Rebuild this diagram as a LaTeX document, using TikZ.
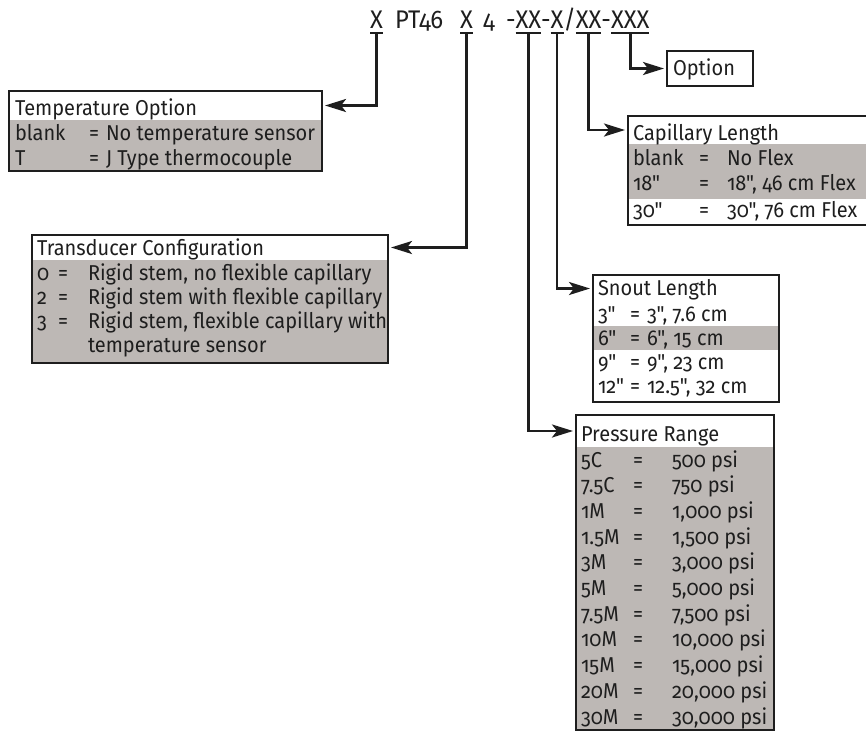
\documentclass[tikz,border=0pt]{standalone}
\usepackage{fontspec}
\setmainfont{Fira Sans}[Numbers=OldStyle, Ligatures=TeXOff, FakeStretch=0.93]
\usetikzlibrary{arrows.meta}
\definecolor{rowgray}{HTML}{BDB8B5}
\definecolor{ink}{HTML}{1E1E1E}
\newcommand\rowthree[8]{%
  \node[txt] (#1a) at (#3,#2) {#4};
  \node[txt] (#1b) at (#5,#2) {#6};
  \node[txt] (#1c) at (#7,#2) {#8};}
\begin{document}
\begin{tikzpicture}[x=1pt, y=-1pt,
  conn/.style={draw=ink, line width=2.6pt, -{Stealth[length=21pt,width=13pt,inset=5pt]}, shorten >=3pt},
  frame/.style={draw=ink, line width=1.2pt, anchor=north west, inner sep=0pt, outer sep=0pt},
  hdr/.style={anchor=north west, inner sep=0pt, outer sep=0pt},
  txt/.style={anchor=base west, inner sep=0pt, outer sep=0pt, text=ink, font=\fontsize{21.5}{24}\selectfont},
  ttl/.style={anchor=base west, inner sep=0pt, outer sep=0pt, text=ink, font=\fontsize{25.5}{28}\selectfont, text depth=5pt},
  uline/.style={draw=ink, line width=1.2pt}]
\clip (0,0) rectangle (866,732);

% ---- title ----
\node[ttl] (tx1) at (370,28) {X};
\node[ttl] (tpt) at (395,28) {PT46};
\node[ttl] (tx2) at (460,28) {X};
\node[ttl] (tfour) at (483,28) {4};
\node[ttl] (td1) at (506,28) {-};
\node[ttl] (txx1) at (td1.base east) {XX};
\node[ttl] (td2) at (txx1.base east) {-};
\node[ttl] (tx3) at (td2.base east) {X};
\node[ttl] (tsl) at (tx3.base east) {/};
\node[ttl] (txx2) at (tsl.base east) {XX};
\node[ttl] (td3) at (txx2.base east) {-};
\node[ttl] (txxx) at (td3.base east) {XXX};
\foreach \n in {tx1,tx2,txx1,tx3,txx2,txxx}
  \draw[uline] (\n.south west) -- (\n.south east);

% ---- Option ----
\node[frame, minimum width=86, minimum height=35] (opt) at (667,51) {};
\node[txt] (optt) at (673,75) {Option};

% ---- Temperature Option ----
\fill[rowgray] (9,120) rectangle (322,171);
\node[frame, minimum width=313, minimum height=80] (temp) at (9,91) {};
\node[hdr, minimum width=313, minimum height=29] (temph) at (9,91) {};
\node[txt] (tempt) at (15,115) {Temperature Option};
\rowthree{tempra}{140}{15}{blank}{89}{=}{106}{No temperature sensor}
\rowthree{temprb}{165}{15}{T}{89}{=}{106}{J Type thermocouple}

% ---- Transducer Configuration ----
\fill[rowgray] (32,260) rectangle (388,363);
\node[frame, minimum width=356, minimum height=128] (trans) at (32,235) {};
\node[hdr, minimum width=356, minimum height=25] (transh) at (32,235) {};
\node[txt] (transt) at (37,255) {Transducer Configuration};
\rowthree{transra}{280}{37}{0}{58}{=}{88}{Rigid stem, no flexible capillary}
\rowthree{transrb}{304}{37}{2}{58}{=}{88}{Rigid stem with flexible capillary}
\rowthree{transrc}{328}{37}{3}{58}{=}{88}{Rigid stem, flexible capillary with}
\node[txt] (transrd) at (88,352) {temperature sensor};

% ---- Capillary Length ----
\fill[rowgray] (628,144) rectangle (870,199);
\node[frame, minimum width=242, minimum height=109] (cap) at (628,116) {};
\node[hdr, minimum width=242, minimum height=28] (caph) at (628,116) {};
\node[txt] (capt) at (633,140) {Capillary Length};
\rowthree{capra}{165}{633}{blank}{699}{=}{727}{No Flex}
\rowthree{caprb}{190}{633}{18"}{699}{=}{727}{18", 46 cm Flex}
\rowthree{caprc}{217}{633}{30"}{699}{=}{727}{30", 76 cm Flex}

% ---- Snout Length ----
\fill[rowgray] (593,326) rectangle (779,350);
\node[frame, minimum width=186, minimum height=127] (snout) at (593,275) {};
\node[hdr, minimum width=186, minimum height=27] (snouth) at (593,275) {};
\node[txt] (snoutt) at (598,295) {Snout Length};
\rowthree{snra}{321}{598}{3"}{630}{=}{647}{3", 7.6 cm}
\rowthree{snrb}{345}{598}{6"}{630}{=}{647}{6", 15 cm}
\rowthree{snrc}{369}{598}{9"}{630}{=}{647}{9", 23 cm}
\rowthree{snrd}{393}{598}{12"}{630}{=}{647}{12.5", 32 cm}

% ---- Pressure Range ----
\fill[rowgray] (576,447) rectangle (774,730);
\node[frame, minimum width=198, minimum height=315] (pres) at (576,415) {};
\node[hdr, minimum width=198, minimum height=32] (presh) at (576,415) {};
\node[txt] (prest) at (581,441) {Pressure Range};
\rowthree{pra}{467}{581}{5C}{633}{=}{672}{500 psi}
\rowthree{prb}{492.7}{581}{7.5C}{633}{=}{672}{750 psi}
\rowthree{prc}{518.4}{581}{1M}{633}{=}{672}{1,000 psi}
\rowthree{prd}{544.1}{581}{1.5M}{633}{=}{672}{1,500 psi}
\rowthree{pre}{569.8}{581}{3M}{633}{=}{672}{3,000 psi}
\rowthree{prf}{595.5}{581}{5M}{633}{=}{672}{5,000 psi}
\rowthree{prg}{621.2}{581}{7.5M}{633}{=}{672}{7,500 psi}
\rowthree{prh}{646.9}{581}{10M}{633}{=}{672}{10,000 psi}
\rowthree{pri}{672.6}{581}{15M}{633}{=}{672}{15,000 psi}
\rowthree{prj}{698.3}{581}{20M}{633}{=}{672}{20,000 psi}
\rowthree{prk}{724}{581}{30M}{633}{=}{672}{30,000 psi}

% ---- connectors ----
\draw[conn] (tx1.south) |- (temph.east);
\draw[conn] (tx2.south) |- (transh.east);
\draw[conn] (txx1.south) |- (presh.west);
\draw[conn] (tx3.south) |- (snouth.west);
\draw[conn] (txx2.south) |- (caph.west);
\draw[conn] (txxx.south) |- (opt.west);
\end{tikzpicture}
\end{document}
